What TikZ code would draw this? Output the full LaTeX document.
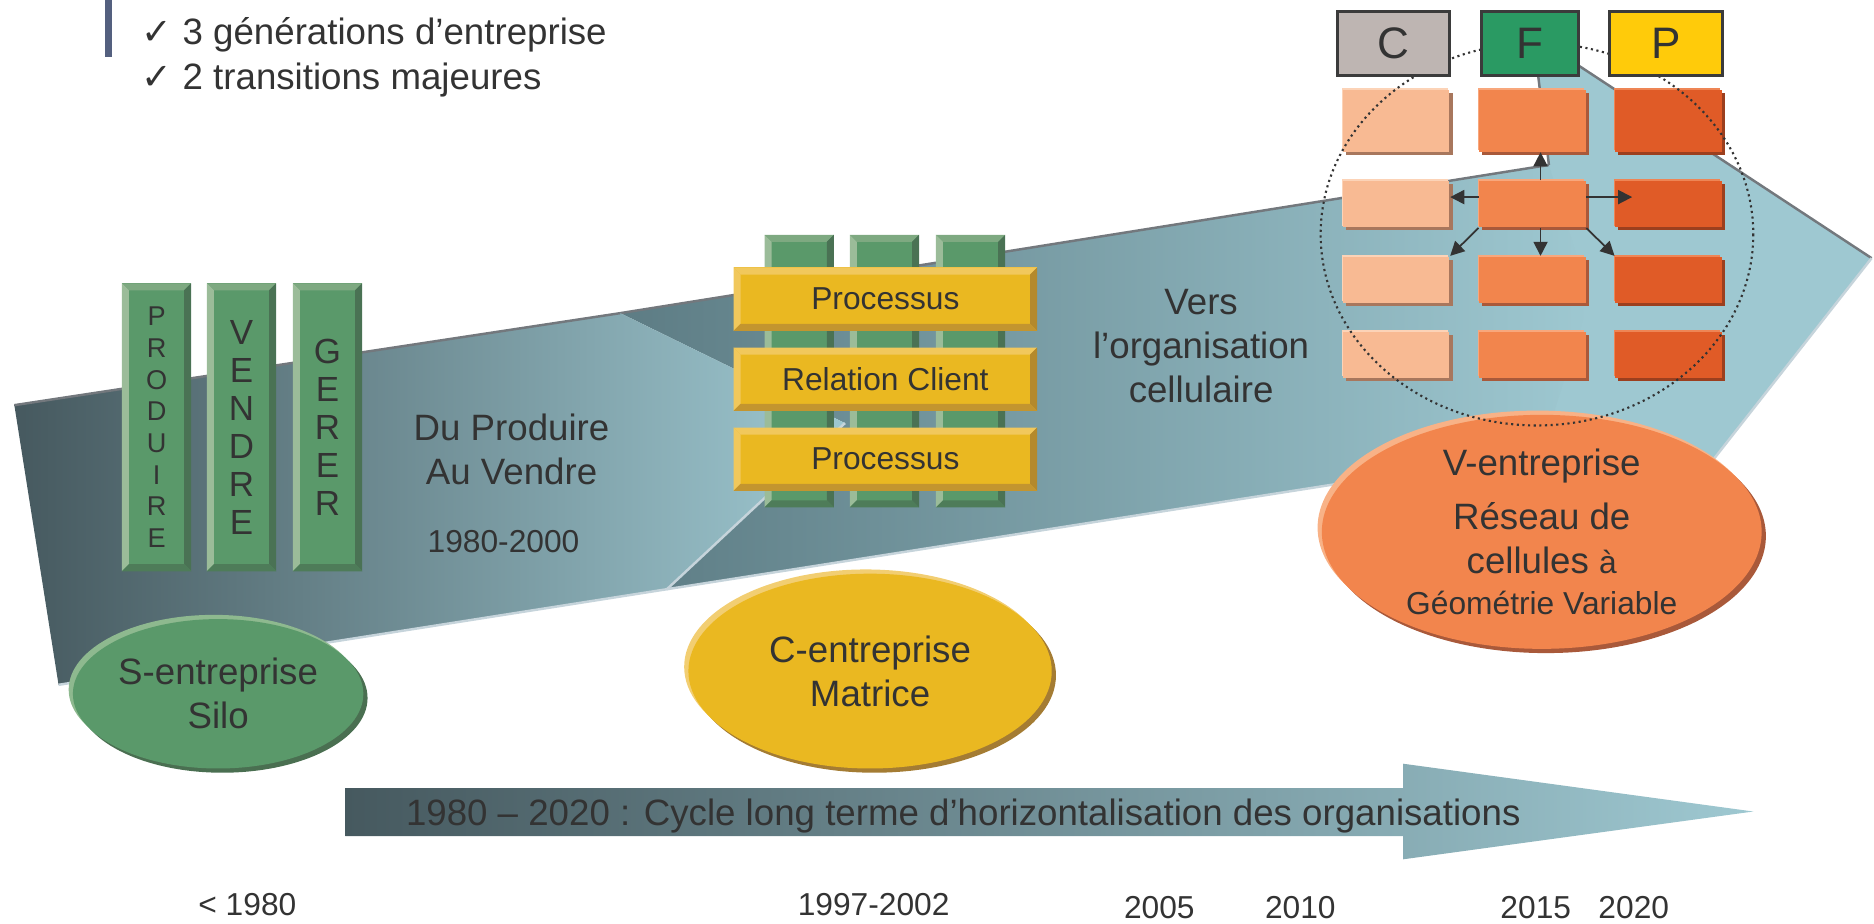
\documentclass[tikz,border=0pt]{standalone}
\usepackage{fontspec}
\setmainfont{Liberation Sans}
\newfontfamily\symfont{DejaVu Sans}
\usetikzlibrary{shapes.geometric,shadows,arrows.meta}

\definecolor{ink}{HTML}{333333}
\definecolor{barblue}{HTML}{54607F}
\definecolor{bandD}{HTML}{46595F}
\definecolor{bandM}{HTML}{5D7C84}
\definecolor{bandL}{HTML}{9EC8D1}
\definecolor{edgeD}{HTML}{73787D}
\definecolor{edgeL}{HTML}{C6D4DB}
\definecolor{grn}{HTML}{5A996A}
\definecolor{grnT}{HTML}{7EA981}
\definecolor{grnL}{HTML}{9BBC99}
\definecolor{grnR}{HTML}{4A7254}
\definecolor{grnB}{HTML}{4E7C59}
\definecolor{gold}{HTML}{EAB821}
\definecolor{goldL}{HTML}{F1C85C}
\definecolor{goldR}{HTML}{B4892C}
\definecolor{goldB}{HTML}{C3952F}
\definecolor{peach}{HTML}{F8BA93}
\definecolor{peachL}{HTML}{FCD3B7}
\definecolor{peachD}{HTML}{A8775D}
\definecolor{orng}{HTML}{F2854D}
\definecolor{orngL}{HTML}{F8A77C}
\definecolor{orngD}{HTML}{A9593A}
\definecolor{rust}{HTML}{E05B27}
\definecolor{rustL}{HTML}{EE8555}
\definecolor{rustD}{HTML}{9C3F1E}
\definecolor{boxC}{HTML}{BEB5B2}
\definecolor{boxF}{HTML}{2A9A63}
\definecolor{boxP}{HTML}{FFCB0A}
\definecolor{boxline}{HTML}{3B3B3B}
\definecolor{ovalGL}{HTML}{8EB98F}
\definecolor{ovalGD}{HTML}{4A6F51}
\definecolor{ovalYL}{HTML}{F2CE72}
\definecolor{ovalYD}{HTML}{A47C33}
\definecolor{ovalOL}{HTML}{F8B287}
\definecolor{ovalOD}{HTML}{A9593A}

\tikzset{
  lbl/.style={text=ink, font=\fontsize{10.4}{12.5}\selectfont, align=center},
  yr/.style={text=ink, font=\fontsize{9}{10.8}\selectfont},
  bevel/.style n args={5}{fill=#1, path picture={
    \path (path picture bounding box.north west) coordinate (bnw)
          (path picture bounding box.north east) coordinate (bne)
          (path picture bounding box.south west) coordinate (bsw)
          (path picture bounding box.south east) coordinate (bse);
    \fill[#2] (bnw) -- (bne) -- ([shift={(-\bev,-\bev)}]bne) -- ([shift={(\bev,-\bev)}]bnw) -- cycle;
    \fill[#3] (bnw) -- ([shift={(\bev,-\bev)}]bnw) -- ([shift={(\bev,\bev)}]bsw) -- (bsw) -- cycle;
    \fill[#4] (bne) -- ([shift={(-\bev,-\bev)}]bne) -- ([shift={(-\bev,\bev)}]bse) -- (bse) -- cycle;
    \fill[#5] (bsw) -- ([shift={(\bev,\bev)}]bsw) -- ([shift={(-\bev,\bev)}]bse) -- (bse) -- cycle;
  }},
  scol/.style={bevel={grn}{grnT}{grnL}{grnR}{grnB}, inner sep=0pt,
    minimum width=58*\px, minimum height=241*\px, text=ink, align=center},
  mcol/.style={bevel={grn}{grnT}{grnL}{grnR}{grnB}, inner sep=0pt,
    minimum width=58*\px, minimum height=228*\px},
  pbox/.style={bevel={gold}{goldL}{goldL}{goldR}{goldB}, inner sep=0pt,
    minimum width=254*\px, minimum height=53*\px, text=ink, font=\fontsize{9}{10}\selectfont},
  brick/.style={inner sep=0pt, minimum width=89*\px, minimum height=#1},
  brickA/.style={fill=peach, general shadow={fill=peachD, shadow xshift=.9pt, shadow yshift=-.9pt},
    general shadow={fill=peachL, shadow xshift=-.45pt, shadow yshift=.45pt}},
  brickB/.style={fill=orng, general shadow={fill=orngD, shadow xshift=.9pt, shadow yshift=-.9pt},
    general shadow={fill=orngL, shadow xshift=-.45pt, shadow yshift=.45pt}},
  brickC/.style={fill=rust, general shadow={fill=rustD, shadow xshift=.9pt, shadow yshift=-.9pt},
    general shadow={fill=rustL, shadow xshift=-.45pt, shadow yshift=.45pt}},
  cfp/.style={draw=boxline, line width=.8pt, inner sep=0pt, minimum height=54*\px,
    text=ink, font=\fontsize{12.5}{14}\selectfont},
  oval/.style n args={3}{ellipse, inner sep=0pt, fill=#1,
    general shadow={fill=#3, shadow xshift=1.2pt, shadow yshift=-1.2pt},
    general shadow={fill=#2, shadow xshift=-1.2pt, shadow yshift=1.2pt}, lbl},
  link/.style={draw=ink, line width=.5pt, -{Triangle[length=4pt,width=4pt]}},
  ring/.style={draw=ink, line width=.6pt, dash pattern=on .6pt off 1pt},
  topedge/.style={draw=edgeD, line width=.7pt},
  lowedge/.style={draw=edgeL, line width=.7pt},
}

\begin{document}
\begin{tikzpicture}[x=0.3389pt, y=-0.3389pt]
\def\px{0.3389pt}
\def\bev{2pt}
\useasboundingbox (0,0) rectangle (1568,773);

% header
\fill[barblue] (88,0) rectangle (94,48);
\node[lbl, anchor=base west, inner sep=0pt] (gen) at (118,37.6) {{\symfont ✓} 3 générations d’entreprise};
\node[lbl, anchor=base west, inner sep=0pt] (trans) at (118,74.7) {{\symfont ✓} 2 transitions majeures};

% the three rising arrows
\fill[bandL] (1283,30) -- (1566,216) -- (1390,440) -- (1200,420) -- (1296,138) -- cycle;
\draw[topedge] (1296,138) -- (1283,30) -- (1566,216);
\draw[lowedge] (1566,216) -- (1390,440);
\shade[left color=bandM, right color=bandL] (519,262) -- (1296,138) -- (1330,250)
  -- (1290,378) -- (558,493) -- (707,354) -- cycle;
\draw[topedge] (519,262) -- (1296,138);
\draw[lowedge] (558,493) -- (1290,378);
\shade[left color=bandD, right color=bandL] (12,339) -- (519,262) -- (707,354)
  -- (558,493) -- (49,573) -- cycle;
\draw[topedge] (12,339) -- (519,262);
\draw[lowedge] (707,354) -- (558,493) -- (49,573);

% time arrow
\shade[left color=bandD, right color=bandL] (289,659.5) -- (1174,659.5) -- (1174,639)
  -- (1467,679) -- (1174,719) -- (1174,699.6) -- (289,699.6) -- cycle;
\node[lbl, anchor=base] (cycle) at (806,691) {1980 – 2020 : Cycle long terme d’horizontalisation des organisations};

% silo
\node[scol, font=\fontsize{7.7}{9}\selectfont] (prod) at (131,357.5) {P\\R\\O\\D\\U\\I\\R\\E};
\node[scol, font=\fontsize{9.9}{10.8}\selectfont] (vend) at (202,357.5) {V\\E\\N\\D\\R\\E};
\node[scol, font=\fontsize{9.9}{10.8}\selectfont] (gere) at (274,357.5) {G\\E\\R\\E\\R};

% matrice
\node[mcol] (m1) at (668.7,310.5) {};
\node[mcol] (m2) at (740,310.5) {};
\node[mcol] (m3) at (812.1,310.5) {};
\node[pbox] (proc1) at (740.8,250.3) {Processus};
\node[pbox] (rel) at (740.8,317.3) {Relation Client};
\node[pbox] (proc2) at (740.8,384.2) {Processus};

% cells
\foreach \r/\y/\h in {1/101/17.5pt,2/170.8/13.1pt,3/234/13.1pt,4/296.8/13.1pt}{
  \node[brick=\h, brickA] (c\r1) at (1168.3,\y) {};
  \node[brick=\h, brickB] (c\r2) at (1282.2,\y) {};
  \node[brick=\h, brickC] (c\r3) at (1396,\y) {};
}
\draw[link] ([xshift=2.3pt]c22.north) -- ([xshift=2.3pt]c12.south);
\draw[link] ([yshift=2pt]c22.west) -- ([yshift=2pt]c21.east);
\draw[link] ([yshift=2pt]c22.east) -- ([xshift=5pt,yshift=2pt]c23.west);
\draw[link] ([xshift=2.3pt]c22.south) -- ([xshift=2.3pt]c32.north);
\draw[link] (c22.south west) -- (c31.north east);
\draw[link] (c22.south east) -- (c33.north west);

% generations
\node[oval={grn}{ovalGL}{ovalGD}, minimum width=243*\px, minimum height=125*\px] (silo) at (182.5,580.5) {S-entreprise\\Silo};
\node[oval={gold}{ovalYL}{ovalYD}, minimum width=304*\px, minimum height=163*\px] (matr) at (728,561.5) {C-entreprise\\Matrice};
\node[oval={orng}{ovalOL}{ovalOD}, minimum width=368*\px, minimum height=187*\px] (vnet) at (1290,445)
  {V-entreprise\\[2.8pt]Réseau de\\cellules {\fontsize{9}{10}\selectfont à}\\[-1pt]{\fontsize{9}{10}\selectfont Géométrie Variable}};

\draw[ring] (1286,196) ellipse [x radius=181, y radius=160];

\node[cfp, fill=boxC, minimum width=94*\px] (tc) at (1166,36.3) {C};
\node[cfp, fill=boxF, minimum width=81*\px] (tf) at (1280,36.3) {F};
\node[cfp, fill=boxP, minimum width=94.6*\px] (tp) at (1394,36.3) {P};

% labels
\node[lbl] (dupv) at (428,376) {Du Produire\\Au Vendre};
\node[yr, anchor=base] (d8000) at (421.3,462.4) {1980-2000};
\node[lbl] (vers) at (1005,289.5) {Vers\\l’organisation\\cellulaire};

\node[yr, anchor=base] (y80) at (207,766) {< 1980};
\node[yr, anchor=base] (y97) at (731,766) {1997-2002};
\node[yr, anchor=base] (y05) at (970,768.4) {2005};
\node[yr, anchor=base] (y10) at (1088,768.4) {2010};
\node[yr, anchor=base] (y15) at (1285,768.4) {2015};
\node[yr, anchor=base] (y20) at (1367,768.4) {2020};
\end{tikzpicture}
\end{document}
